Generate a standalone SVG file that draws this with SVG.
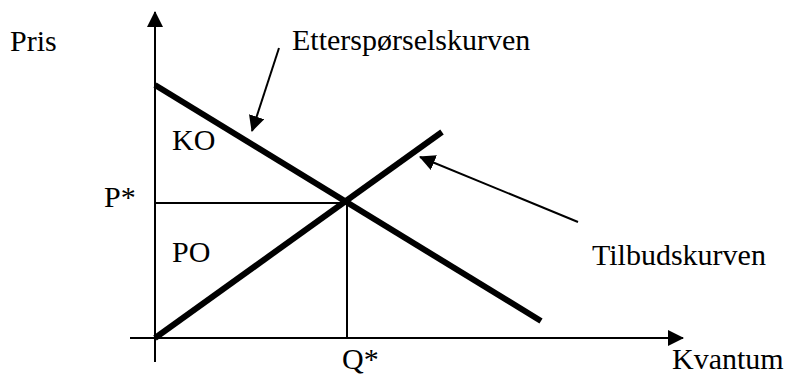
<svg xmlns="http://www.w3.org/2000/svg" width="790" height="376" viewBox="0 0 790 376">
<defs>
<style>
text{font-family:"Liberation Serif","Times New Roman",serif;font-size:30px;fill:#000}
.thin{stroke:#000;stroke-width:2;fill:none}
.thick{stroke:#000;stroke-width:6;fill:none}
</style>
<marker id="ah" markerWidth="16" markerHeight="16" viewBox="0 0 16 16" refX="15" refY="8" orient="auto" markerUnits="userSpaceOnUse">
<path d="M0,0 L16,8 L0,16 Z" fill="#000"/>
</marker>
</defs>
<rect width="790" height="376" fill="#fff"/>
<g id="connectors">
<line class="thin" x1="155" y1="362" x2="155" y2="12" marker-end="url(#ah)"/>
<line class="thin" x1="130" y1="338" x2="683" y2="338" marker-end="url(#ah)"/>
<line class="thin" x1="155" y1="203" x2="347" y2="203"/>
<line class="thin" x1="347" y1="203" x2="347" y2="338"/>
<line class="thin" x1="279" y1="48" x2="252" y2="131" marker-end="url(#ah)"/>
<line class="thin" x1="578" y1="222" x2="420" y2="157" marker-end="url(#ah)"/>
</g>
<g id="demand"><line class="thick" x1="155" y1="85" x2="541" y2="321"/></g>
<g id="supply"><line class="thick" x1="155" y1="338" x2="442" y2="132"/></g>
<g id="labels">
<text x="10" y="51">Pris</text>
<text x="292" y="50">Etterspørselskurven</text>
<text x="172" y="150">KO</text>
<text x="104" y="207">P*</text>
<text x="172" y="262">PO</text>
<text x="592" y="265">Tilbudskurven</text>
<text x="342" y="369">Q*</text>
<text x="672" y="369">Kvantum</text>
</g>
</svg>
